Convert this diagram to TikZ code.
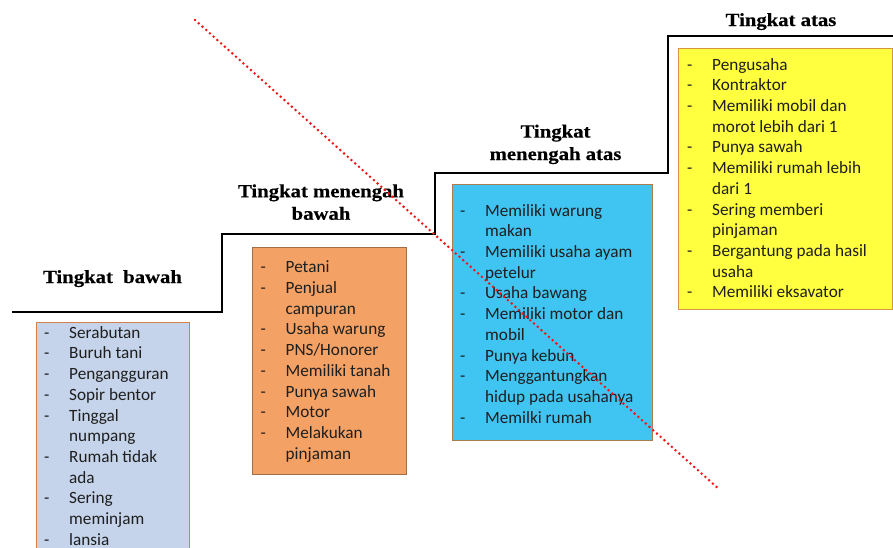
\documentclass[tikz,border=0pt]{standalone}
\usepackage{fontspec}
\setmainfont{Carlito}
\newfontfamily\headfont{Liberation Serif}[FakeStretch=1.12,FakeBold=0.4]

\definecolor{lowfill}{RGB}{197,212,234}
\definecolor{lowline}{RGB}{214,128,70}
\definecolor{lmidfill}{RGB}{243,161,101}
\definecolor{lmidline}{RGB}{160,110,70}
\definecolor{umidfill}{RGB}{64,196,242}
\definecolor{umidline}{RGB}{170,125,80}
\definecolor{topfill}{RGB}{255,255,64}
\definecolor{topline}{RGB}{215,150,60}
\definecolor{dotred}{RGB}{240,20,20}

\tikzset{
  stair/.style={line width=2.5pt, black, line join=miter},
  tierbox/.style={draw, line width=0.9pt, inner sep=0pt, outer sep=0pt, anchor=north west},
  heading/.style={font=\headfont\bfseries\fontsize{18.5}{22.5}\selectfont, align=center, inner sep=0pt},
  itemlist/.style={anchor=north west, inner sep=0pt, text=black!88,
    font=\fontsize{17.2}{20.7}\selectfont},
  divider/.style={dotred, line width=2.8pt, dash pattern=on 0pt off 5pt, line cap=round}
}

\newcommand{\itemtab}[1]{\begin{tabular}{@{}p{25pt}@{}l@{}}#1\end{tabular}}

\begin{document}
\begin{tikzpicture}[x=1pt,y=-1pt]
\useasboundingbox (0,0) rectangle (893,547);
\clip (0,0) rectangle (893,547);

% staircase of the four levels
\draw[stair] (12,312) -- (222,312) -- (222,234) -- (435,234) -- (435,173)
  -- (668,173) -- (668,36) -- (895,36);

% level boxes
\node[tierbox, fill=lowfill, draw=lowline, minimum width=153pt, minimum height=250pt] (b1) at (36,322) {};
\node[tierbox, fill=lmidfill, draw=lmidline, minimum width=154pt, minimum height=227pt] (b2) at (252,247) {};
\node[tierbox, fill=umidfill, draw=umidline, minimum width=200pt, minimum height=256pt] (b3) at (452,184) {};
\node[tierbox, fill=topfill, draw=topline, minimum width=214pt, minimum height=261pt] (b4) at (678,48) {};

% headings
\node[heading, anchor=base] (h1) at (112.5,283) {Tingkat~ bawah};
\node[heading, anchor=north] (h2) at (321,184.2) {Tingkat menengah\\bawah};
\node[heading, anchor=north] (h3) at (555.5,124.5) {Tingkat\\menengah atas};
\node[heading, anchor=base] (h4) at (781,26) {Tingkat atas};

% item lists
\node[itemlist] (l1) at (44,323.5) {\itemtab{
- & Serabutan\\
- & Buruh tani\\
- & Pengangguran\\
- & Sopir bentor\\
- & Tinggal\\
  & numpang\\
- & Rumah tidak\\
  & ada\\
- & Sering\\
  & meminjam\\
- & lansia}};

\node[itemlist] (l2) at (260.5,258.2) {\itemtab{
- & Petani\\
- & Penjual\\
  & campuran\\
- & Usaha warung\\
- & PNS/Honorer\\
- & Memiliki tanah\\
- & Punya sawah\\
- & Motor\\
- & Melakukan\\
  & pinjaman}};

\node[itemlist] (l3) at (460,201.5) {\itemtab{
- & Memiliki warung\\
  & makan\\
- & Memiliki usaha ayam\\
  & petelur\\
- & Usaha bawang\\
- & Memiliki motor dan\\
  & mobil\\
- & Punya kebun\\
- & Menggantungkan\\
  & hidup pada usahanya\\
- & Memilki rumah}};

\node[itemlist] (l4) at (687,55.5) {\itemtab{
- & Pengusaha\\
- & Kontraktor\\
- & Memiliki mobil dan\\
  & morot lebih dari 1\\
- & Punya sawah\\
- & Memiliki rumah lebih\\
  & dari 1\\
- & Sering memberi\\
  & pinjaman\\
- & Bergantung pada hasil\\
  & usaha\\
- & Memiliki eksavator}};

% dotted dividing line
\coordinate (d1) at (195,20);
\coordinate (d2) at (720,490);
\draw[divider] (d1) -- (d2);
\end{tikzpicture}
\end{document}
